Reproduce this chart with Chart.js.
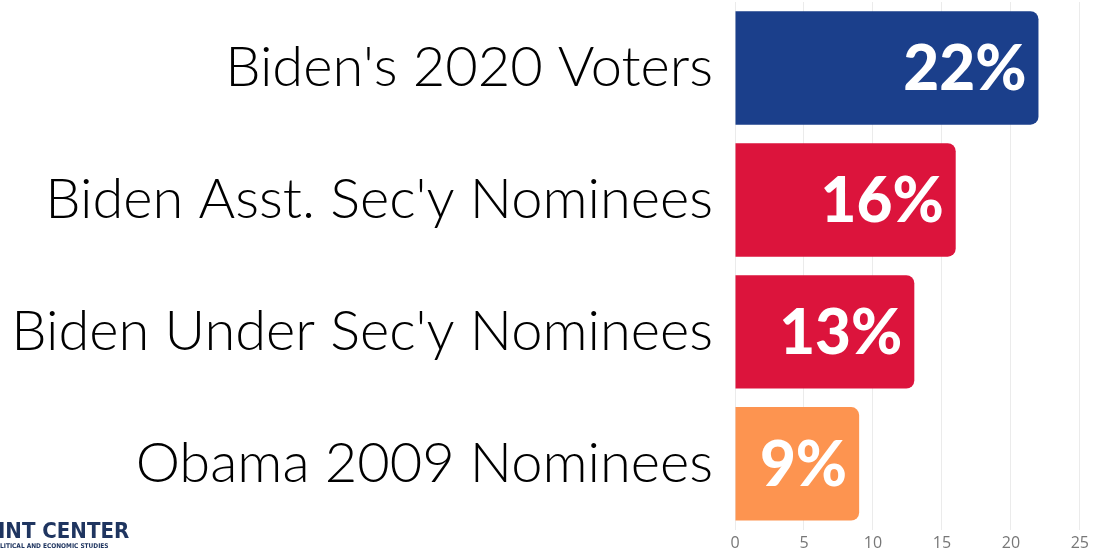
<!DOCTYPE html>
<html>
<head>
<meta charset="utf-8">
<script src="https://cdn.jsdelivr.net/npm/chart.js@4"></script>
<style>
  html, body { margin: 0; padding: 0; background: #fff; }
  #wrap { position: relative; width: 1093px; height: 552px; overflow: hidden; }
  #logo { position: absolute; left: -2px; top: 520px; font-family: "Liberation Sans Narrow", "DejaVu Sans Condensed", sans-serif; color: #1f3560; font-weight: bold; font-size: 22px; line-height: 22px; }
  #logoSub { position: absolute; left: 0px; top: 542px; font-family: "DejaVu Sans Condensed", sans-serif; color: #1f3560; font-weight: bold; font-size: 6.5px; line-height: 8px; }
</style>
</head>
<body>
<div id="wrap">
  <canvas id="myChart" width="1093" height="552"></canvas>
  <div id="logo">INT CENTER</div>
  <div id="logoSub">LITICAL AND ECONOMIC STUDIES</div>
</div>
<script>
const categories = ["Biden's 2020 Voters", "Biden Asst. Sec'y Nominees", "Biden Under Sec'y Nominees", "Obama 2009 Nominees"];
const shares = [22, 16, 13, 9];
const barColors = ['#1b3f8b', '#dc143c', '#dc143c', '#fd9450'];
const xTicks = [0, 5, 10, 15, 20, 25];

// white % labels at the end of each bar
const barLabels = {
    id: 'barLabels',
    afterDatasetsDraw(chart) {
        const ctx = chart.ctx;
        const meta = chart.getDatasetMeta(0);
        ctx.save();
        ctx.fillStyle = '#ffffff';
        ctx.font = '900 62px Lato';
        ctx.textAlign = 'right';
        ctx.textBaseline = 'middle';
        meta.data.forEach((bar, i) => {
            ctx.fillText(shares[i] + '%', bar.x - 12, bar.y + 2);
        });
        ctx.restore();
    }
};

const ctx = document.getElementById('myChart').getContext('2d');
const chart = new Chart(ctx, {
    type: 'bar',
    data: {
        labels: categories,
        datasets: [{
            data: shares,
            backgroundColor: barColors,
            borderRadius: 8,
            barPercentage: 0.86,
            categoryPercentage: 1.0,
        }]
    },
    options: {
        indexAxis: 'y',
        responsive: false,
        animation: false,
        layout: { padding: { top: 2, right: 4, bottom: -5, left: 0 } },
        plugins: {
            legend: { display: false },
            tooltip: { enabled: false }
        },
        scales: {
            x: {
                min: 0,
                max: 25,
                afterBuildTicks: (scale) => { scale.ticks = xTicks.map(v => ({ value: v })); },
                grid: { color: '#ebebeb', drawTicks: false },
                border: { display: false },
                ticks: { color: '#777', font: { family: 'Open Sans', size: 16 }, padding: 4 }
            },
            y: {
                grid: { display: false },
                border: { display: false },
                afterFit: (scale) => {
                    scale.width = 735;
                    scale.paddingTop = 0;
                    scale.paddingBottom = 0;
                },
                ticks: { color: '#000', font: { family: 'Lato', size: 56, weight: 300 }, padding: 14 }
            }
        }
    },
    plugins: [barLabels]
});
</script>
</body>
</html>
